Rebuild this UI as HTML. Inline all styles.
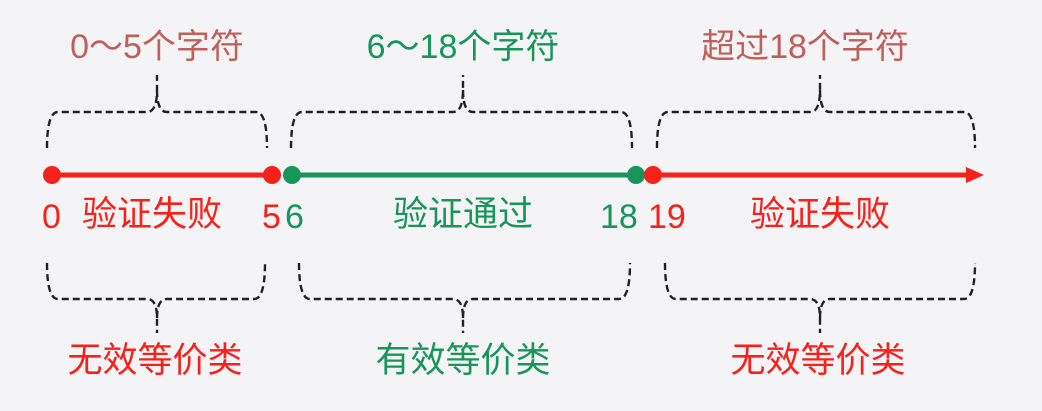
<!DOCTYPE html>
<html><head><meta charset="utf-8"><style>
html,body{margin:0;padding:0;background:#f4f3f6;}
svg{display:block;}
text{font-family:"Liberation Sans","Noto Sans CJK SC",sans-serif;}
</style></head><body>
<svg width="1042" height="411" viewBox="0 0 1042 411">
<rect width="1042" height="411" fill="#f4f3f6"/>
<g fill="none" stroke="#222" stroke-width="2.4" stroke-dasharray="7,4">
<path d="M47 148 Q47 112 58 112 L147 112 Q157 112 157 90 L157 75 M157 90 Q157 112 167 112 L256 112 Q267 112 267 148"/>
<path d="M291 148 Q291 112 302 112 L453 112 Q463 112 463 90 L463 75 M463 90 Q463 112 473 112 L621 112 Q632 112 632 148"/>
<path d="M657 148 Q657 112 668 112 L810 112 Q820 112 820 90 L820 75 M820 90 Q820 112 830 112 L964 112 Q975 112 975 148"/>
<path d="M47 263 Q47 299 58 299 L147 299 Q157 299 157 318 L157 333 M157 318 Q157 299 167 299 L254 299 Q265 299 265 263"/>
<path d="M299 263 Q299 299 310 299 L453 299 Q463 299 463 318 L463 333 M463 318 Q463 299 473 299 L619 299 Q630 299 630 263"/>
<path d="M665 263 Q665 299 676 299 L810 299 Q820 299 820 318 L820 333 M820 318 Q820 299 830 299 L964 299 Q975 299 975 263"/>
</g>
<line x1="52" y1="175" x2="272" y2="175" stroke="#f5221b" stroke-width="5"/>
<line x1="292" y1="175" x2="636" y2="175" stroke="#17955a" stroke-width="5"/>
<line x1="653" y1="175" x2="968" y2="175" stroke="#f5221b" stroke-width="5"/>
<polygon points="966,167 984,175 966,183" fill="#f5221b"/>
<circle cx="52" cy="175" r="9" fill="#f5221b"/>
<circle cx="272" cy="175" r="9" fill="#f5221b"/>
<circle cx="292" cy="175" r="9" fill="#17955a"/>
<circle cx="636" cy="175" r="9" fill="#17955a"/>
<circle cx="653" cy="175" r="9" fill="#f5221b"/>
<g font-size="34" text-anchor="middle">
<text x="157" y="58" fill="#c0605a">0～5个字符</text>
<text x="463" y="58" fill="#17955a">6～18个字符</text>
<text x="805" y="58" fill="#c0605a">超过18个字符</text>
<text x="152" y="226" font-size="35" fill="#f5221b">验证失败</text>
<text x="463" y="226" font-size="35" fill="#17955a">验证通过</text>
<text x="820" y="226" font-size="35" fill="#f5221b">验证失败</text>
<text x="155" y="372" font-size="35" fill="#f5221b">无效等价类</text>
<text x="463" y="372" font-size="35" fill="#17955a">有效等价类</text>
<text x="818" y="372" font-size="35" fill="#f5221b">无效等价类</text>
</g>
<g font-size="34">
<text x="42" y="228" fill="#f5221b">0</text>
<text x="262" y="228" fill="#f5221b">5</text>
<text x="285" y="228" fill="#17955a">6</text>
<text x="600" y="228" fill="#17955a">18</text>
<text x="648" y="228" fill="#f5221b">19</text>
</g>
</svg>
</body></html>
